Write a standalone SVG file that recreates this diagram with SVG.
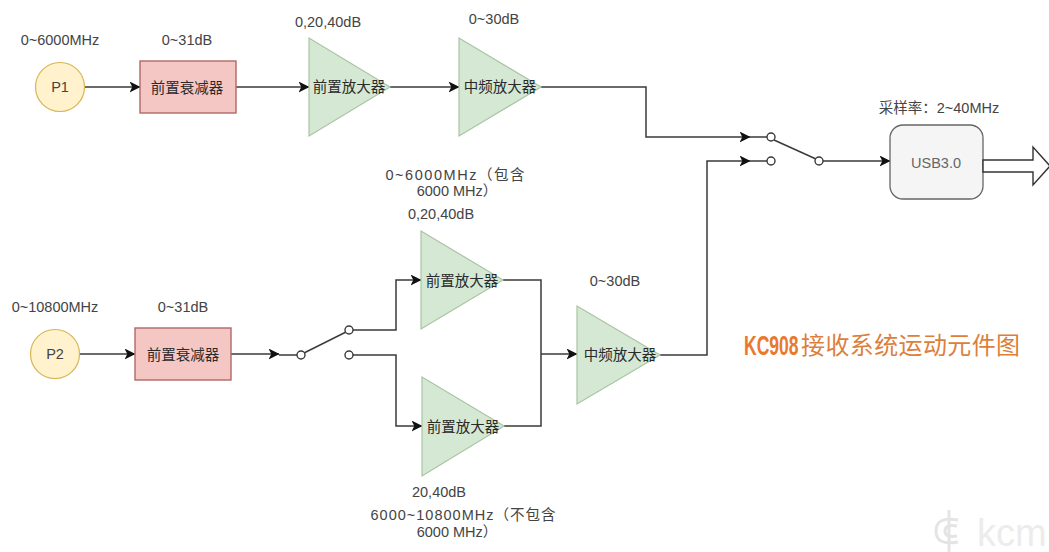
<svg xmlns="http://www.w3.org/2000/svg" width="1049" height="552" viewBox="0 0 1049 552">
<style>
text{font-family:"Liberation Sans","Noto Sans CJK SC",sans-serif;font-size:14.5px;fill:#444;text-anchor:middle}
.n{fill:#2a2a2a}
.port{fill:#fff2cc;stroke:#d6b656;stroke-width:1.2}
.att{fill:#f4c7c5;stroke:#b06a66;stroke-width:1.4}
.amp{fill:#d5e8d4;stroke:#a9c5a3;stroke-width:1.2}
.c{fill:none;stroke:#3a3a3a;stroke-width:1.5}
.sw{fill:#fff;stroke:#3a3a3a;stroke-width:1.4}
.t{font-size:24px;fill:#dd7f3c;text-anchor:start}
</style>
<defs>
<marker id="a" viewBox="0 0 10 10" refX="9.5" refY="5" markerWidth="11" markerHeight="11" markerUnits="userSpaceOnUse" orient="auto"><path d="M0 0L10 5L0 10L2.5 5Z" fill="#111"/></marker>
</defs>
<rect width="1049" height="552" fill="#fff"/>
<g id="connectors">
<path class="c" marker-end="url(#a)" d="M85 87H140"/>
<path class="c" marker-end="url(#a)" d="M236 87H309"/>
<path class="c" marker-end="url(#a)" d="M390 87H459"/>
<path class="c" marker-end="url(#a)" d="M541 87H646V137H750"/>
<path class="c" d="M750 137H767"/>
<path class="c" marker-end="url(#a)" d="M660 355H707V161H750"/>
<path class="c" d="M750 161H767"/>
<path class="c" d="M774 140L816 159"/>
<path class="c" marker-end="url(#a)" d="M823 161H890"/>
<path class="c" marker-end="url(#a)" d="M80 354H135"/>
<path class="c" marker-end="url(#a)" d="M231 354H279"/>
<path class="c" d="M279 355H297"/>
<path class="c" d="M304 353L346 332"/>
<path class="c" marker-end="url(#a)" d="M353 330H396V280H421"/>
<path class="c" marker-end="url(#a)" d="M353 355H396V426H422"/>
<path class="c" d="M503 280H541V426H504"/>
<path class="c" marker-end="url(#a)" d="M541 354H577"/>
<circle class="sw" cx="771" cy="137" r="4"/>
<circle class="sw" cx="771" cy="161" r="4"/>
<circle class="sw" cx="819" cy="161" r="4"/>
<circle class="sw" cx="301" cy="355" r="4"/>
<circle class="sw" cx="349" cy="330" r="4"/>
<circle class="sw" cx="349" cy="355" r="4"/>
</g>
<g id="p1"><circle class="port" cx="60" cy="87" r="24.5"/><text x="60" y="92">P1</text><text x="60" y="45">0~6000MHz</text></g>
<g id="att1"><rect class="att" x="140" y="61" width="96" height="52"/><text class="n" x="187" y="93">前置衰减器</text><text x="187" y="45">0~31dB</text></g>
<g id="amp1"><polygon class="amp" points="309,38 309,136 390,87"/><text class="n" x="349" y="92">前置放大器</text><text x="328" y="27">0,20,40dB</text></g>
<g id="if1"><polygon class="amp" points="459,38 459,136 541,87"/><text class="n" x="500" y="92">中频放大器</text><text x="494" y="24">0~30dB</text></g>
<g id="usb"><rect x="890" y="125" width="93" height="74" rx="13" fill="#f5f5f5" stroke="#666" stroke-width="1.3"/><text x="936" y="168" style="fill:#666">USB3.0</text><text x="939" y="113">采样率：2~40MHz</text></g>
<g id="bus"><path d="M983 160H1033V147L1050 166L1033 185V172H983Z" fill="#fff" stroke="#333" stroke-width="1.4"/></g>
<g id="p2"><circle class="port" cx="55" cy="354" r="24.5"/><text x="55" y="359">P2</text><text x="55" y="312">0~10800MHz</text></g>
<g id="att2"><rect class="att" x="135" y="328" width="96" height="52"/><text class="n" x="183" y="360">前置衰减器</text><text x="183" y="312">0~31dB</text></g>
<g id="amp2"><polygon class="amp" points="421,231 421,329 503,280"/><text class="n" x="462" y="286">前置放大器</text><text x="455" y="180" textLength="139">0~6000MHz（包含</text><text x="457" y="196">6000 MHz）</text><text x="441" y="219">0,20,40dB</text></g>
<g id="amp3"><polygon class="amp" points="422,377 422,476 504,426"/><text class="n" x="463" y="432">前置放大器</text><text x="439" y="497">20,40dB</text><text x="463" y="520" textLength="185">6000~10800MHz（不包含</text><text x="457" y="537">6000 MHz）</text></g>
<g id="if2"><polygon class="amp" points="577,306 577,404 660,355"/><text class="n" x="620" y="360">中频放大器</text><text x="615" y="286">0~30dB</text></g>
<g id="title"><text class="t" transform="translate(744 355) scale(.65 1)" style="font-size:27px;font-weight:bold;fill:#e8792e">KC908</text><text class="t" x="801" y="354" textLength="219">接收系统运动元件图</text></g>
<g id="watermark" fill="none" stroke="#e4e4e4" stroke-width="3"><path d="M958 520Q936 516 936 531Q936 546 958 542"/><path d="M957 526Q945 524 945 531Q945 538 957 536"/><path d="M949 510V552"/></g>
<text x="977" y="546" style="font-size:38px;fill:#ececec;text-anchor:start">kcm</text>
</svg>
